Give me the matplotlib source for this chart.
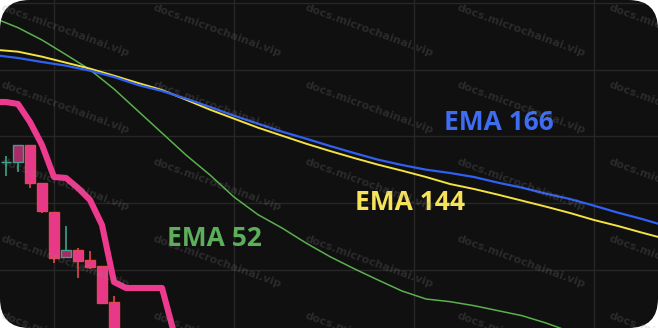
import numpy as np
import matplotlib
matplotlib.use("Agg")
import matplotlib.pyplot as plt
from matplotlib.patches import FancyBboxPatch

# Bougies (index, open, high, low, close)
CANDLE_IDX   = [0, 1, 2, 3, 4, 5, 6, 7, 8, 9]
CANDLE_OPEN  = [95.22, 95.24, 95.74, 94.59, 93.74, 92.37, 92.59, 92.29, 92.12, 91.04]
CANDLE_HIGH  = [95.41, 95.74, 95.74, 94.59, 93.74, 93.31, 92.64, 92.56, 92.12, 91.22]
CANDLE_LOW   = [94.81, 94.94, 94.44, 93.71, 92.21, 92.37, 91.74, 92.01, 90.99, 89.59]
CANDLE_CLOSE = [95.24, 95.74, 94.59, 93.76, 92.34, 92.59, 92.27, 92.09, 91.01, 89.74]

# Ligne rose epaisse
PINK_IDX = [-1, 0, 1, 2, 3, 4, 5, 6, 7, 8, 9, 10, 11, 12, 13, 14]
PINK_VAL = [97.03, 97.03, 96.97, 96.43, 95.74, 94.78, 94.75, 94.45, 94.09,
            93.34, 91.63, 91.45, 91.45, 91.45, 91.45, 90.10]

# Moyennes mobiles, un point toutes les 2 bougies
EMA_IDX = list(range(-1, 56, 2))
EMA166 = [98.44, 98.35, 98.23, 98.12, 97.97, 97.78, 97.54, 97.36, 97.13, 96.88,
          96.62, 96.38, 96.14, 95.93, 95.71, 95.50, 95.30, 95.14, 95.00, 94.90,
          94.78, 94.61, 94.46, 94.28, 94.12, 93.92, 93.71, 93.52, 93.31]
EMA144 = [98.60, 98.54, 98.39, 98.21, 98.03, 97.82, 97.60, 97.39, 97.10, 96.80,
          96.53, 96.26, 96.02, 95.78, 95.56, 95.35, 95.15, 94.97, 94.78, 94.57,
          94.42, 94.25, 94.07, 93.89, 93.70, 93.49, 93.31, 93.11, 92.92]
EMA52  = [99.55, 99.26, 98.89, 98.45, 98.00, 97.42, 96.76, 96.10, 95.44, 94.84,
          94.18, 93.65, 93.25, 92.80, 92.39, 92.03, 91.69, 91.36, 91.12, 91.04,
          90.92, 90.77, 90.62, 90.40, 90.14, 89.89, 89.59, 89.29, 88.99]

LABELS = [("EMA 166", 41.1, 96.40, "#3e6cf2"),
          ("EMA 144", 33.7, 94.00, "#f7e35a"),
          ("EMA 52",  17.4, 92.95, "#5cae5a")]

GRID_X = [4, 19, 34, 49]
GRID_Y = [92, 94, 96, 98, 100]

BG      = "#101010"
RED_EDGE, RED_FILL = "#e4484e", "#e8388a"
GRN_EDGE, GRN_FILL = "#3aa38a", "#a82a68"


def dessiner():
    fig = plt.figure(figsize=(6.58, 3.28), dpi=100)
    fig.patch.set_facecolor("white")

    # fond sombre aux coins arrondis
    bg = FancyBboxPatch((0, 0), 1, 1, boxstyle="round,pad=0,rounding_size=0.045",
                        mutation_aspect=658 / 328, transform=fig.transFigure,
                        facecolor=BG, edgecolor="none", zorder=-5)
    fig.patches.append(bg)

    ax = fig.add_axes([0, 0, 1, 1])
    ax.set_zorder(2)
    ax.patch.set_visible(False)
    ax.set_xlim(-0.5, 54.333)
    ax.set_ylim(90.25, 100.09)
    for s in ax.spines.values():
        s.set_visible(False)
    ax.set_xticks(GRID_X)
    ax.set_yticks(GRID_Y)
    ax.tick_params(length=0, labelbottom=False, labelleft=False)
    ax.grid(True, color="#272727", linewidth=1.0)
    ax.set_axisbelow(True)

    # moyennes mobiles
    ax.plot(EMA_IDX, EMA52, color="#5bb04e", linewidth=1.1, zorder=2)
    ax.plot(EMA_IDX, EMA144, color="#f5e142", linewidth=1.4, zorder=3)
    ax.plot(EMA_IDX, EMA166, color="#3060f2", linewidth=1.6, zorder=3)

    # bougies
    o = np.array(CANDLE_OPEN)
    c = np.array(CANDLE_CLOSE)
    up = c >= o
    edges = [GRN_EDGE if u else RED_EDGE for u in up]
    fills = [GRN_FILL if u else RED_FILL for u in up]
    ax.vlines(CANDLE_IDX, CANDLE_LOW, CANDLE_HIGH, colors=edges, linewidth=1.2, zorder=4)
    ax.bar(CANDLE_IDX, np.abs(c - o), bottom=np.minimum(o, c), width=0.76,
           color=fills, edgecolor=edges, linewidth=1.0, zorder=5)

    # ligne rose
    ax.plot(PINK_IDX, PINK_VAL, color="#ee3a8e", linewidth=4.4,
            solid_joinstyle="round", zorder=6)

    for txt, x, y, col in LABELS:
        ax.text(x, y, txt, color=col, fontsize=19, fontweight="bold",
                family="Open Sans", ha="center", va="center", zorder=7)

    # filigrane
    for j in range(5):
        for i in range(5):
            ax.text((3 + 152 * i) / 658, 1 - (3 + 77 * j) / 328,
                    "docs.microchainai.vip", transform=fig.transFigure,
                    color="#8a8a8a", alpha=0.22, fontsize=8, fontweight="bold",
                    rotation=-20, rotation_mode="anchor", ha="left", va="top",
                    zorder=8)

    for art in ax.lines + ax.patches + ax.texts + ax.collections:
        art.set_clip_path(bg)
    for g in ax.get_xgridlines() + ax.get_ygridlines():
        g.set_clip_path(bg)

    fig.savefig("out.png", dpi=100, facecolor="white")
    plt.close(fig)


if __name__ == "__main__":
    dessiner()
